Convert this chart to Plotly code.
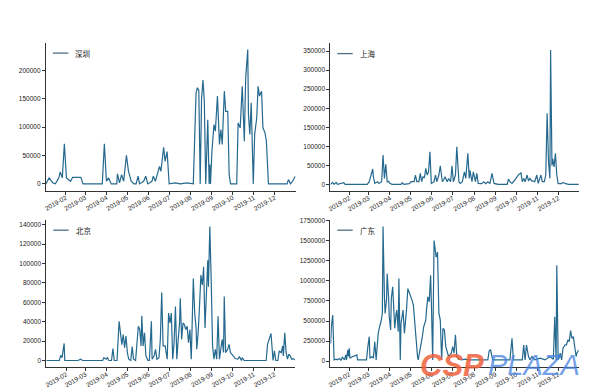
import pandas as pd
import plotly.graph_objects as go

# ---------------- data (day-of-year offsets from 2019-01-01, values) ----------------
sz_doy = [2, 7, 12, 16, 21, 23, 26, 29, 32, 38, 41, 53, 56, 84, 87, 90, 93, 97, 105, 106,
          109, 112, 115, 119, 122, 126, 130, 133, 136, 138, 144, 147, 150, 156, 158, 161, 164, 167, 169, 171,
          173, 175, 178, 181, 190, 197, 207, 216, 220, 222, 224, 226, 228, 230, 232, 234, 237, 239, 240, 241,
          243, 246, 248, 251, 254, 256, 258, 261, 263, 266, 268, 270, 279, 281, 284, 287, 290, 292, 295, 296,
          298, 300, 303, 305, 308, 310, 312, 315, 317, 320, 322, 325, 352, 354, 357, 360, 364]
sz_val = [0, 10600, 1800, 0, 10600, 21000, 10600, 70600, 10600, 4600, 11600, 11600, 0, 0, 70600, 4600, 10600, 0, 0, 17600,
          1800, 16400, 4600, 50500, 22200, 4600, 0, 0, 13400, 0, 4600, 13400, 0, 4600, 13400, 4600, 17600, 31000, 22200, 45900,
          64600, 39900, 57000, 0, 1800, 0, 1800, 0, 160600, 169500, 165000, 0, 150000, 183000, 145800, 0, 113000, 0, 34000, 0,
          57500, 104700, 92800, 154700, 69400, 95800, 69400, 163500, 128000, 128000, 16400, 0, 0, 107600, 98800, 172000, 75200, 187000, 237000, 122300,
          87000, 143000, 0, 87000, 116500, 172000, 154700, 163500, 98800, 90000, 75200, 0, 0, 7600, 0, 4600, 13400]

sh_doy = [4, 7, 9, 12, 14, 23, 25, 57, 60, 62, 65, 66, 68, 72, 74, 78, 80, 82, 84, 86,
          88, 90, 93, 106, 108, 110, 118, 121, 125, 127, 129, 132, 134, 136, 138, 140, 142, 144, 146, 148,
          150, 154, 156, 158, 161, 163, 166, 168, 170, 173, 175, 178, 180, 182, 185, 187, 190, 192, 195, 198,
          200, 203, 205, 206, 209, 211, 214, 216, 218, 223, 226, 229, 232, 235, 238, 241, 247, 260, 262, 264,
          267, 271, 276, 280, 282, 284, 286, 289, 291, 293, 296, 298, 300, 303, 305, 309, 311, 314, 316, 318,
          320, 322, 323, 325, 326, 328, 330, 332, 334, 339, 341, 345, 349, 364]
sh_val = [0, 5300, 0, 5300, 0, 4400, 0, 0, 7000, 20000, 40300, 20000, 2600, 7000, 2600, 7000, 77100, 15800, 52600, 7000,
          8000, 2600, 0, 0, 4400, 0, 1800, 7000, 7000, 24500, 7000, 7000, 29000, 7000, 20000, 17000, 42000, 24500, 33000, 85800,
          2600, 7000, 24500, 7000, 24500, 49000, 7000, 12000, 20000, 7000, 15000, 7000, 49000, 7000, 24500, 99000, 7000, 2600, 7000, 33000,
          15800, 81600, 15800, 37000, 7000, 33000, 7000, 29000, 2600, 1800, 7000, 1800, 7000, 1800, 29000, 2600, 0, 0, 14000, 7000,
          2600, 11000, 24500, 30000, 7000, 15800, 7000, 24500, 8800, 15800, 8800, 8800, 7000, 24500, 2600, 24500, 7000, 7000, 24500, 186900,
          59500, 15800, 353000, 49000, 68000, 46000, 81600, 24500, 1800, 1800, 5300, 1800, 0, 0]

bj_doy = [2, 21, 23, 25, 28, 29, 48, 52, 55, 84, 86, 89, 91, 93, 97, 99, 101, 105, 108, 110,
          112, 114, 116, 118, 120, 122, 125, 127, 129, 132, 134, 136, 138, 140, 141, 143, 145, 147, 150, 152,
          155, 156, 159, 161, 163, 166, 168, 170, 172, 175, 178, 180, 182, 184, 186, 188, 190, 192, 194, 196,
          197, 199, 201, 203, 205, 207, 209, 211, 213, 216, 218, 220, 221, 223, 225, 227, 229, 231, 233, 235,
          237, 238, 240, 242, 244, 246, 248, 250, 252, 254, 256, 258, 260, 261, 263, 266, 268, 270, 274, 277,
          281, 283, 286, 287, 290, 322, 324, 327, 329, 332, 334, 336, 339, 341, 344, 346, 347, 349, 351, 353,
          355, 357, 359, 361, 364]
bj_val = [0, 0, 5400, 3000, 17600, 0, 0, 1400, 0, 0, 3000, 1400, 3000, 0, 0, 12200, 0, 0, 40500, 25200,
          16300, 26800, 13200, 25200, 8200, 1400, 0, 14300, 1400, 0, 21700, 35300, 32000, 15000, 46200, 15000, 28500, 4800, 0, 0,
          40500, 1400, 4800, 11500, 1400, 3000, 21700, 70000, 15000, 15000, 1400, 48900, 38700, 48900, 1400, 18400, 55700, 1400, 21800, 38700,
          64200, 21800, 38700, 37000, 32000, 35300, 18400, 32000, 1400, 84600, 48900, 33600, 11600, 28500, 55700, 88000, 77800, 96500, 33600, 72700,
          103300, 76100, 138000, 82900, 15000, 1400, 11600, 1400, 45500, 1400, 15000, 21800, 8200, 66000, 8200, 11600, 16700, 8200, 4800, 2000,
          1400, 4100, 0, 3000, 0, 0, 16700, 23500, 27900, 0, 9900, 0, 0, 9900, 8200, 15000, 4800, 28500, 8200, 1400,
          6500, 4800, 1400, 2000, 700]

gd_doy = [4, 5, 7, 9, 12, 14, 17, 19, 21, 24, 26, 27, 29, 30, 31, 32, 34, 38, 42, 43,
          48, 53, 56, 58, 60, 61, 64, 66, 68, 70, 73, 75, 77, 79, 80, 82, 83, 85, 86, 88,
          89, 91, 92, 94, 95, 97, 99, 100, 102, 103, 105, 106, 108, 109, 111, 112, 114, 116, 118, 120,
          122, 124, 126, 128, 130, 131, 134, 137, 139, 142, 143, 145, 147, 149, 150, 152, 154, 156, 157, 159,
          161, 163, 165, 167, 169, 171, 173, 175, 179, 181, 183, 185, 187, 190, 194, 199, 204, 211, 219, 228,
          232, 234, 236, 239, 243, 252, 260, 264, 267, 269, 274, 282, 284, 286, 288, 291, 293, 296, 300, 308,
          315, 322, 327, 329, 331, 332, 334, 335, 337, 339, 341, 344, 346, 348, 350, 352, 354, 356, 358, 360,
          361, 364]
gd_val = [220000, 429000, 574000, 16500, 24800, 16500, 33000, 8300, 49500, 16500,
          78400, 16500, 140000, 58000, 161000, 37000, 49500, 66000, 78400, 16500,
          16500, 24800, 16500, 182000, 305000, 37000, 58000, 37000, 243000, 16500,
          347000, 429000, 491000, 594000, 1676000, 800000, 594000, 760000, 1090000, 800000,
          553000, 388000, 780000, 925000, 677000, 409000, 594000, 636000, 367000, 1028000,
          16500, 470000, 574000, 636000, 347000, 429000, 636000, 904000, 863000, 800000,
          760000, 698000, 450000, 182000, 58000, 16500, 140000, 305000, 429000, 512000,
          636000, 800000, 740000, 1069000, 760000, 16500, 1503000, 1337000, 1296000, 1358000,
          594000, 512000, 16500, 409000, 388000, 182000, 99000, 58000, 99000, 182000,
          99000, 330000, 58000, 24800, 16500, 24800, 16500, 16500, 24800, 16500,
          16500, 132000, 140000, 16500, 16500, 16500, 16500, 16500, 285000, 16500,
          16500, 16500, 202000, 16500, 202000, 58000, 16500, 58000, 16500, 37000,
          16500, 58000, 24800, 553000, 16500, 1193000, 16500, 58000, 99000, 16500,
          161000, 202000, 202000, 264000, 243000, 380000, 285000, 305000, 182000, 58000,
          99000, 140000]

series_names = ["深圳", "上海", "北京", "广东"]
sz_ticks = [0, 50000, 100000, 150000, 200000]
sh_ticks = [0, 50000, 100000, 150000, 200000, 250000, 300000, 350000]
bj_ticks = [0, 20000, 40000, 60000, 80000, 100000, 120000, 140000]
gd_ticks = [0, 250000, 500000, 750000, 1000000, 1250000, 1500000, 1750000]
month_ticks = ["2019-02-01", "2019-03-01", "2019-04-01", "2019-05-01", "2019-06-01", "2019-07-01",
               "2019-08-01", "2019-09-01", "2019-10-01", "2019-11-01", "2019-12-01"]
month_labels = ["2019-02", "2019-03", "2019-04", "2019-05", "2019-06", "2019-07",
                "2019-08", "2019-09", "2019-10", "2019-11", "2019-12"]

# ---------------- figure ----------------
BASE = pd.Timestamp("2019-01-01")
LINE = "#25698f"
W, H = 589, 388

panels = [
    (series_names[0], sz_doy, sz_val, sz_ticks, (35, 286), (32, 181), 2.1, 364.3),
    (series_names[1], sh_doy, sh_val, sh_ticks, (321, 570.7), (32.5, 181.5), 3.6, 363.9),
    (series_names[2], bj_doy, bj_val, bj_ticks, (35.5, 285.7), (210.5, 359), 2.1, 364.3),
    (series_names[3], gd_doy, gd_val, gd_ticks, (321, 570.7), (210.5, 359), 3.6, 363.9),
]

fig = go.Figure()
layout = dict(width=W, height=H, margin=dict(l=0, r=0, t=0, b=0),
              paper_bgcolor="white", plot_bgcolor="white", showlegend=False)
shapes, annotations = [], []
tickfont = dict(family="Liberation Sans, Arial, sans-serif", size=6.5, color="#1a1a1a")

for i, (name, doy, val, yt, (xl, xr), (yt_px, yb_px), x0, x1) in enumerate(panels):
    n = "" if i == 0 else str(i + 1)
    dates = BASE + pd.to_timedelta(doy, unit="D")
    fig.add_trace(go.Scatter(x=dates, y=val, mode="lines", name=name,
                             line=dict(color=LINE, width=1.2),
                             xaxis="x" + n, yaxis="y" + n))
    vmin, vmax = min(val), max(val)
    span = vmax - vmin
    layout["xaxis" + n] = dict(
        domain=[xl / W, xr / W], anchor="y" + n,
        range=[BASE + pd.Timedelta(days=x0), BASE + pd.Timedelta(days=x1)],
        tickvals=month_ticks, ticktext=month_labels, tickangle=-30,
        ticklabelstandoff=-3,
        showline=True, linecolor="#333", linewidth=1, ticks="outside", ticklen=3,
        tickcolor="#333", showgrid=False, zeroline=False, tickfont=tickfont)
    layout["yaxis" + n] = dict(
        domain=[1 - yb_px / H, 1 - yt_px / H], anchor="x" + n,
        range=[vmin - 0.05 * span, vmax + 0.05 * span],
        tickvals=yt, tickformat="d",
        showline=True, linecolor="#333", linewidth=1, ticks="outside", ticklen=3,
        tickcolor="#333", showgrid=False, zeroline=False, tickfont=tickfont)
    xr_ = "x" + n + " domain"
    yr_ = "y" + n + " domain"
    ly = 0.93
    shapes.append(dict(type="line", xref=xr_, yref=yr_, x0=0.028, x1=0.09, y0=ly, y1=ly,
                       line=dict(color="#4f6f80", width=1.3)))
    annotations.append(dict(xref=xr_, yref=yr_, x=0.11, y=ly, text=name, showarrow=False,
                            xanchor="left", yanchor="middle",
                            font=dict(family="Noto Sans CJK SC", size=7.5, color="#222")))

# watermark
annotations.append(dict(xref="paper", yref="paper", x=477 / W, y=1 - 357 / H, text="<b><i>CSP</i></b>",
                        showarrow=False, xanchor="right", yanchor="middle",
                        font=dict(family="Liberation Sans", size=31, color="rgba(240,95,60,0.85)")))
annotations.append(dict(xref="paper", yref="paper", x=477 / W, y=1 - 357 / H, text="<i>PLAZA</i>",
                        showarrow=False, xanchor="left", yanchor="middle",
                        font=dict(family="Liberation Sans", size=29, color="rgba(70,130,225,0.75)")))

layout["shapes"] = shapes
layout["annotations"] = annotations
fig.update_layout(**layout)
fig.write_html("out.html")
